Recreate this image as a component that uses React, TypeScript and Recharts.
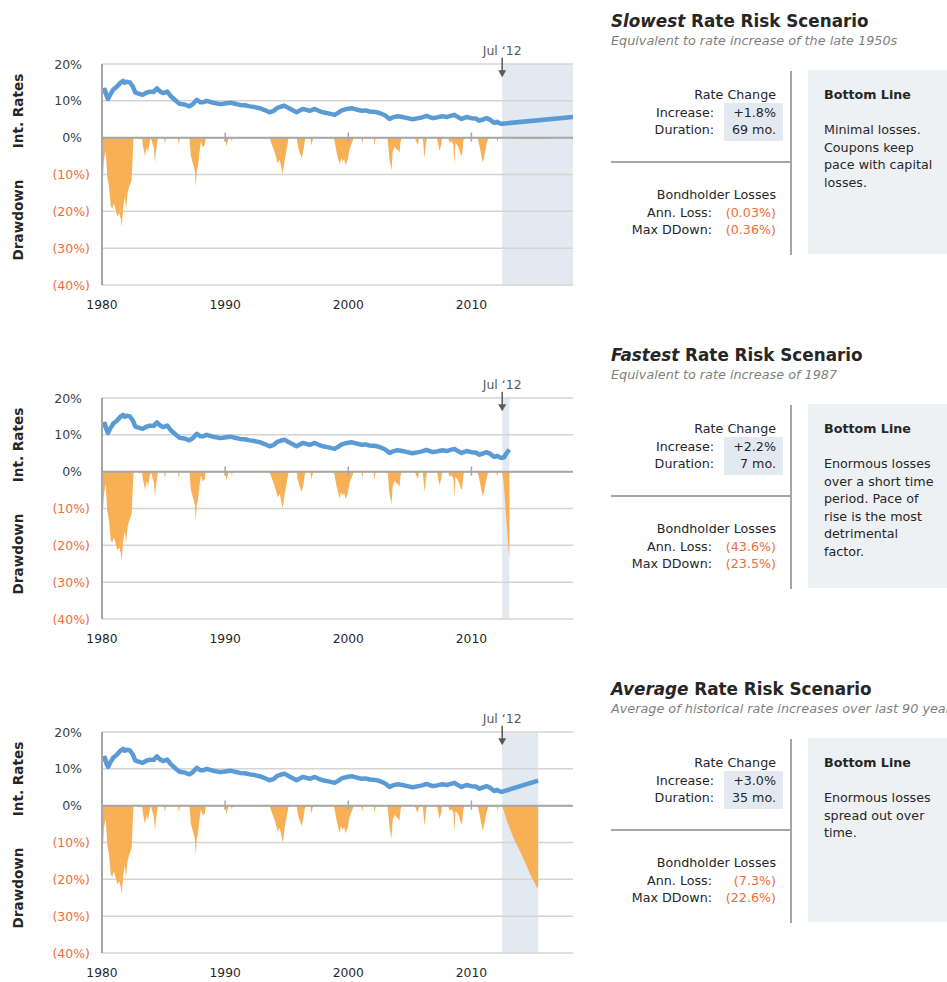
import React from 'react';
import {
  ComposedChart,
  Line,
  Area,
  XAxis,
  YAxis,
  CartesianGrid,
  ReferenceArea,
  ReferenceLine,
} from 'recharts';

const FONT = '"DejaVu Sans", Verdana, Tahoma, sans-serif';
const BLUE = '#5B9BD5';
const ORANGE = '#F7B055';
const RED = '#F26B3D';
const SHADE = '#E2E9F0';
const AXIS_GREY = '#A6A6A6';
const TEXT = '#262626';

// Axes
const yearTicks = [1980, 1990, 2000, 2010];
const pctTicks = [-40, -30, -20, -10, 0, 10, 20];
const startYear = 1980;
const endYear = 2018.25;
const forecastStart = 2012.5;
const forecastLabel = 'Jul \u201812';

// Historical long-term interest rate (%)
const histRateYears = [
  1980.0, 1980.1, 1980.24, 1980.36, 1980.49, 1980.65, 1980.9, 1981.2, 1981.46, 1981.7,
  1981.85, 1982.0, 1982.27, 1982.5, 1982.7, 1982.84, 1983.1, 1983.3, 1983.6, 1983.9,
  1984.2, 1984.46, 1984.7, 1984.95, 1985.3, 1985.6, 1985.9, 1986.3, 1986.7, 1987.1,
  1987.4, 1987.7, 1988.0, 1988.2, 1988.5, 1989.0, 1989.3, 1989.6, 1990.0, 1990.4,
  1990.8, 1991.2, 1991.6, 1992.0, 1992.4, 1992.8, 1993.2, 1993.6, 1993.9, 1994.2,
  1994.5, 1994.8, 1995.3, 1995.8, 1996.3, 1996.87, 1997.27, 1997.6, 1997.92, 1998.4,
  1998.89, 1999.2, 1999.46, 1999.9, 2000.27, 2000.6, 2001.08, 2001.4, 2001.73, 2002.2,
  2002.54, 2003.0, 2003.35, 2003.6, 2004.0, 2004.4, 2004.8, 2005.22, 2005.7, 2006.0,
  2006.35, 2006.84, 2007.2, 2007.65, 2008.0, 2008.3, 2008.62, 2008.9, 2009.19, 2009.6,
  2010.0, 2010.35, 2010.65, 2011.0, 2011.22, 2011.5, 2011.86, 2012.1, 2012.35, 2012.5,
];
const histRates = [
  12.1, 12.8, 13.0, 11.5, 10.5, 11.6, 13.0, 13.8, 14.8, 15.4,
  14.9, 15.2, 15.0, 13.9, 12.3, 12.1, 11.8, 11.6, 12.2, 12.5,
  12.4, 13.4, 12.6, 12.1, 12.5, 11.2, 10.3, 9.2, 9.0, 8.5,
  9.2, 10.3, 9.6, 9.6, 10.0, 9.5, 9.3, 9.1, 9.3, 9.5,
  9.2, 8.9, 8.8, 8.5, 8.3, 8.0, 7.5, 6.9, 7.2, 8.0,
  8.4, 8.7, 7.8, 6.9, 7.8, 7.3, 7.8, 7.3, 6.9, 6.6,
  6.2, 6.8, 7.4, 7.8, 8.0, 7.7, 7.3, 7.4, 7.1, 7.0,
  6.7, 6.0, 5.1, 5.5, 5.8, 5.6, 5.3, 5.0, 5.3, 5.5,
  5.9, 5.3, 5.5, 5.8, 5.6, 5.9, 6.2, 5.6, 5.1, 5.6,
  5.3, 5.2, 4.6, 5.0, 5.3, 4.9, 4.0, 4.3, 3.8, 3.8,
];

// Historical bondholder drawdown (%)
const histDdYears = [
  1980.0, 1980.06, 1980.16, 1980.3, 1980.43, 1980.57, 1980.71, 1980.84, 1980.97, 1981.11,
  1981.24, 1981.4, 1981.52, 1981.6, 1981.73, 1981.86, 1981.95, 1982.08, 1982.21, 1982.41,
  1982.49, 1982.56, 1983.0, 1983.08, 1983.16, 1983.25, 1983.32, 1983.49, 1983.57, 1983.65,
  1983.73, 1983.89, 1983.97, 1984.05, 1984.22, 1984.3, 1984.4, 1984.46, 1984.54, 1985.03,
  1985.11, 1985.19, 1986.16, 1986.24, 1986.32, 1987.1, 1987.22, 1987.38, 1987.54, 1987.62,
  1987.7, 1987.78, 1987.95, 1988.03, 1988.19, 1988.35, 1988.43, 1990.0, 1990.11, 1990.2,
  1990.3, 1990.46, 1990.54, 1990.62, 1993.62, 1993.7, 1994.03, 1994.27, 1994.43, 1994.68,
  1994.84, 1995.0, 1995.16, 1995.81, 1995.89, 1996.05, 1996.22, 1996.38, 1996.46, 1996.54,
  1996.92, 1997.0, 1997.08, 1997.16, 1998.81, 1998.89, 1999.05, 1999.3, 1999.42, 1999.54,
  1999.66, 1999.78, 1999.95, 2000.11, 2000.35, 2000.43, 2001.06, 2001.14, 2001.22, 2002.06,
  2002.14, 2002.22, 2003.19, 2003.27, 2003.35, 2003.51, 2003.6, 2003.75, 2003.9, 2004.16,
  2004.25, 2004.33, 2005.4, 2005.5, 2005.65, 2005.75, 2006.05, 2006.19, 2006.3, 2006.4,
  2007.2, 2007.41, 2007.55, 2007.62, 2008.1, 2008.22, 2008.4, 2008.54, 2008.62, 2008.7,
  2008.85, 2009.0, 2009.17, 2009.25, 2009.35, 2009.42, 2010.5, 2010.57, 2010.7, 2010.81,
  2010.92, 2011.05, 2011.22, 2011.38, 2012.03, 2012.11, 2012.19, 2012.5,
];
const histDrawdowns = [
  -23, -12, -6, -3.5, -10.6, -13.3, -18.7, -19.2, -17.8, -19.6,
  -21.4, -20.5, -22, -24.1, -18.7, -16, -19.6, -15, -13.3, -11.5,
  -5.2, 0, 0, -0.6, 0, 0, -2, -5, -3.5, -2.5,
  -4, -1, 0, -1, -3, -6.8, -3.5, -2, 0, 0,
  -1.8, 0, 0, -1.8, 0, 0, -5, -7, -9, -13.3,
  -9, -8, -3, -1, -2.7, -2, 0, 0, -2.3, -1.2,
  0, 0, -1, 0, 0, -1, -4, -7, -6, -10,
  -6, -3, 0, 0, -2, -4, -5.5, -3, -1, 0,
  0, -2.2, -1, 0, 0, -1, -4, -7.3, -5.5, -6.5,
  -5.8, -7.5, -6, -3, -1, 0, 0, -1.6, 0, 0,
  -2.2, 0, 0, -3, -6, -9, -4, -2.5, -3, -4,
  -1, 0, 0, -1, -2, 0, 0, -5.5, -2, 0,
  0, -3.6, -2, 0, 0, -1.4, -1, -2, -7.3, -1.5,
  -2, -3, -5, -4.5, -1, 0, 0, -1, -3, -5,
  -6.8, -5, -2, 0, 0, -1.4, 0, 0,
];

// Scenario projections from Jul '12
const slowRateYears = [2012.5, 2018.25];
const slowRates = [3.8, 5.6];
const slowDdYears = [2012.5, 2013.5, 2014.5, 2015.5, 2016.5, 2018.25];
const slowDrawdowns = [0, -0.15, -0.36, -0.2, -0.1, 0];

const fastRateYears = [2012.5, 2012.65, 2012.85, 2013.08];
const fastRates = [3.8, 3.9, 5.0, 6.0];
const fastDdYears = [2012.5, 2012.62, 2012.75, 2012.9, 2013.0, 2013.08];
const fastDrawdowns = [0, -3, -9, -16, -20.5, -23.5];

const avgRateYears = [2012.5, 2015.42];
const avgRates = [3.8, 6.8];
const avgDdYears = [2012.5, 2012.9, 2013.45, 2014.0, 2014.27, 2014.8, 2015.3, 2015.42];
const avgDrawdowns = [0, -4.4, -9, -12.8, -14.7, -18.8, -22.1, -22.6];

// Scenario summaries
const scenarioKinds = ['Slowest', 'Fastest', 'Average'];
const scenarioSubtitles = [
  'Equivalent to rate increase of the late 1950s',
  'Equivalent to rate increase of 1987',
  'Average of historical rate increases over last 90 years',
];
const rateIncreases = [1.8, 2.2, 3.0];
const durationMonths = [69, 7, 35];
const annualLosses = ['0.03', '43.6', '7.3'];
const maxDrawdowns = ['0.36', '23.5', '22.6'];
const bottomLines = [
  ['Minimal losses.', 'Coupons keep', 'pace with capital', 'losses.'],
  ['Enormous losses', 'over a short time', 'period. Pace of', 'rise is the most', 'detrimental', 'factor.'],
  ['Enormous losses', 'spread out over', 'time.'],
];

const scenarioRates = [
  [slowRateYears, slowRates],
  [fastRateYears, fastRates],
  [avgRateYears, avgRates],
];
const scenarioDrawdowns = [
  [slowDdYears, slowDrawdowns],
  [fastDdYears, fastDrawdowns],
  [avgDdYears, avgDrawdowns],
];

type Row = { year: number; rate?: number; dd?: number };

function buildTable(s: number): Row[] {
  const map = new Map<number, Row>();
  const put = (years: number[], vals: number[], key: 'rate' | 'dd') => {
    years.forEach((y, i) => {
      const row = map.get(y) || { year: y };
      row[key] = vals[i];
      map.set(y, row);
    });
  };
  put(histRateYears, histRates, 'rate');
  put(histDdYears, histDrawdowns, 'dd');
  put(scenarioRates[s][0], scenarioRates[s][1], 'rate');
  put(scenarioDrawdowns[s][0], scenarioDrawdowns[s][1], 'dd');
  return Array.from(map.values()).sort((a, b) => a.year - b.year);
}

const PctTick = (props: any) => {
  const { x, y, payload } = props;
  const v = payload.value as number;
  const neg = v < 0;
  return (
    <text
      x={neg ? x : x - 8}
      y={y}
      dy="0.36em"
      textAnchor="end"
      fill={neg ? RED : '#404040'}
      fontSize={12.5}
      fontFamily={FONT}
    >
      {neg ? `(${-v}%)` : `${v}%`}
    </text>
  );
};

const ArrowMark = (props: any) => {
  const { x1, y1, x2, y2 } = props;
  return (
    <g>
      <text x={x1} y={y1 - 3} textAnchor="middle" fill="#595959" fontSize={12.5} fontFamily={FONT}>
        {forecastLabel}
      </text>
      <line x1={x1} y1={y1} x2={x2} y2={y2 - 6} stroke="#595959" strokeWidth={1.5} />
      <path d={`M${x2 - 4},${y2 - 7} L${x2 + 4},${y2 - 7} L${x2},${y2} Z`} fill="#595959" />
    </g>
  );
};

function RateChart({ s }: { s: number }) {
  const data = buildTable(s);
  const bandEnd = forecastStart + durationMonths[s] / 12;
  return (
    <ComposedChart
      width={600}
      height={315}
      data={data}
      margin={{ top: 64, right: 27, left: 0, bottom: 0 }}
    >
      <ReferenceArea
        x1={forecastStart}
        x2={Math.min(bandEnd, endYear)}
        y1={-40}
        y2={20}
        fill={SHADE}
        fillOpacity={1}
        stroke="none"
        zIndex={-150}
      />
      <CartesianGrid vertical={false} stroke="#D4D4D4" strokeWidth={1.5} />
      <XAxis
        dataKey="year"
        type="number"
        domain={[startYear, endYear]}
        ticks={yearTicks}
        interval={0}
        allowDataOverflow
        axisLine={false}
        tickLine={false}
        tickSize={0}
        tickMargin={15}
        height={30}
        tick={{ fontSize: 12.3, fill: '#262626', fontFamily: FONT }}
      />
      <YAxis
        type="number"
        domain={[-40, 20]}
        ticks={pctTicks}
        interval={0}
        allowDataOverflow
        width={102}
        axisLine={{ stroke: AXIS_GREY, strokeWidth: 2 }}
        tickLine={false}
        tickSize={0}
        tickMargin={12}
        tick={<PctTick />}
      />
      <Area
        dataKey="dd"
        type="linear"
        fill={ORANGE}
        fillOpacity={1}
        stroke="none"
        baseValue={0}
        connectNulls
        dot={false}
        activeDot={false}
        isAnimationActive={false}
      />
      <ReferenceLine y={0} stroke={AXIS_GREY} strokeWidth={2} />
      {yearTicks.slice(1).map((yr) => (
        <ReferenceLine
          key={yr}
          segment={[
            { x: yr, y: -1.1 },
            { x: yr, y: 1.4 },
          ]}
          stroke={AXIS_GREY}
          strokeWidth={1.5}
        />
      ))}
      <Line
        dataKey="rate"
        type="linear"
        stroke={BLUE}
        strokeWidth={4.5}
        strokeLinejoin="round"
        dot={false}
        activeDot={false}
        connectNulls
        isAnimationActive={false}
      />
      <ReferenceLine
        segment={[
          { x: forecastStart, y: 21.7 },
          { x: forecastStart, y: 16.4 },
        ]}
        ifOverflow="visible"
        shape={ArrowMark}
      />
    </ComposedChart>
  );
}

const abs = (left: number, top: number, extra: React.CSSProperties = {}): React.CSSProperties => ({
  position: 'absolute',
  left,
  top,
  ...extra,
});

const BODY = 12.7;

function Row({ label, value, center, color, labelRight }: { label: string; value: string; center: number; color?: string; labelRight: number }) {
  return (
    <>
      <div style={abs(labelRight - 160, center - 9, { width: 160, textAlign: 'right', lineHeight: '18px', fontSize: BODY, color: TEXT, whiteSpace: 'nowrap' })}>
        {label}
      </div>
      <div style={abs(716, center - 9, { width: 60, textAlign: 'right', lineHeight: '18px', fontSize: BODY, color: color || TEXT, whiteSpace: 'nowrap' })}>
        {value}
      </div>
    </>
  );
}

function SummaryPanel({ s }: { s: number }) {
  return (
    <>
      <div style={abs(611, 10, { fontSize: 16.8, fontWeight: 'bold', lineHeight: '22px', color: TEXT, whiteSpace: 'nowrap' })}>
        <span style={{ fontStyle: 'italic' }}>{scenarioKinds[s]}</span> Rate Risk Scenario
      </div>
      <div style={abs(611, 33, { fontSize: 12.8, fontStyle: 'italic', lineHeight: '16px', color: '#7F7F7F', whiteSpace: 'nowrap' })}>
        {scenarioSubtitles[s]}
      </div>
      <div style={abs(790, 71, { width: 2, height: 184, background: AXIS_GREY })} />
      <div style={abs(611, 161, { width: 180, height: 2, background: AXIS_GREY })} />
      <div style={abs(808, 70, { width: 139, height: 184, background: '#EEF1F3' })} />
      <div style={abs(724, 103, { width: 59, height: 38, background: '#E3E9F0' })} />
      <div style={abs(600, 86, { width: 176, textAlign: 'right', lineHeight: '18px', fontSize: BODY, color: TEXT })}>Rate Change</div>
      <Row label="Increase:" value={`+${rateIncreases[s].toFixed(1)}%`} center={113} labelRight={714} />
      <Row label="Duration:" value={`${durationMonths[s]} mo.`} center={130} labelRight={714} />
      <div style={abs(600, 186, { width: 176, textAlign: 'right', lineHeight: '18px', fontSize: BODY, color: TEXT })}>Bondholder Losses</div>
      <Row label="Ann. Loss:" value={`(${annualLosses[s]}%)`} center={213} color={RED} labelRight={712} />
      <Row label="Max DDown:" value={`(${maxDrawdowns[s]}%)`} center={230} color={RED} labelRight={712} />
      <div style={abs(824, 86, { fontSize: BODY, fontWeight: 'bold', lineHeight: '18px', color: TEXT })}>Bottom Line</div>
      <div style={abs(824, 121, { fontSize: BODY, lineHeight: '17.6px', color: TEXT, whiteSpace: 'nowrap' })}>
        {bottomLines[s].map((ln, i) => (
          <div key={i}>{ln}</div>
        ))}
      </div>
    </>
  );
}

function AxisTitles() {
  const st: React.CSSProperties = {
    position: 'absolute',
    left: 18,
    transform: 'translate(-50%, -50%) rotate(-90deg)',
    fontSize: 13.6,
    fontWeight: 'bold',
    color: TEXT,
    whiteSpace: 'nowrap',
    lineHeight: '16px',
  };
  return (
    <>
      <div style={{ ...st, top: 111 }}>Int. Rates</div>
      <div style={{ ...st, top: 220 }}>Drawdown</div>
    </>
  );
}

export default function App() {
  return (
    <div
      style={{
        position: 'absolute',
        left: 0,
        top: 0,
        width: 947,
        height: 982,
        overflow: 'hidden',
        background: '#fff',
        fontFamily: FONT,
      }}
    >
      {scenarioKinds.map((_, s) => (
        <div key={s} style={{ position: 'absolute', left: 0, top: s * 334, width: 947, height: 334 }}>
          <div style={{ position: 'absolute', left: 0, top: 0 }}>
            <RateChart s={s} />
          </div>
          <AxisTitles />
          <SummaryPanel s={s} />
        </div>
      ))}
    </div>
  );
}
